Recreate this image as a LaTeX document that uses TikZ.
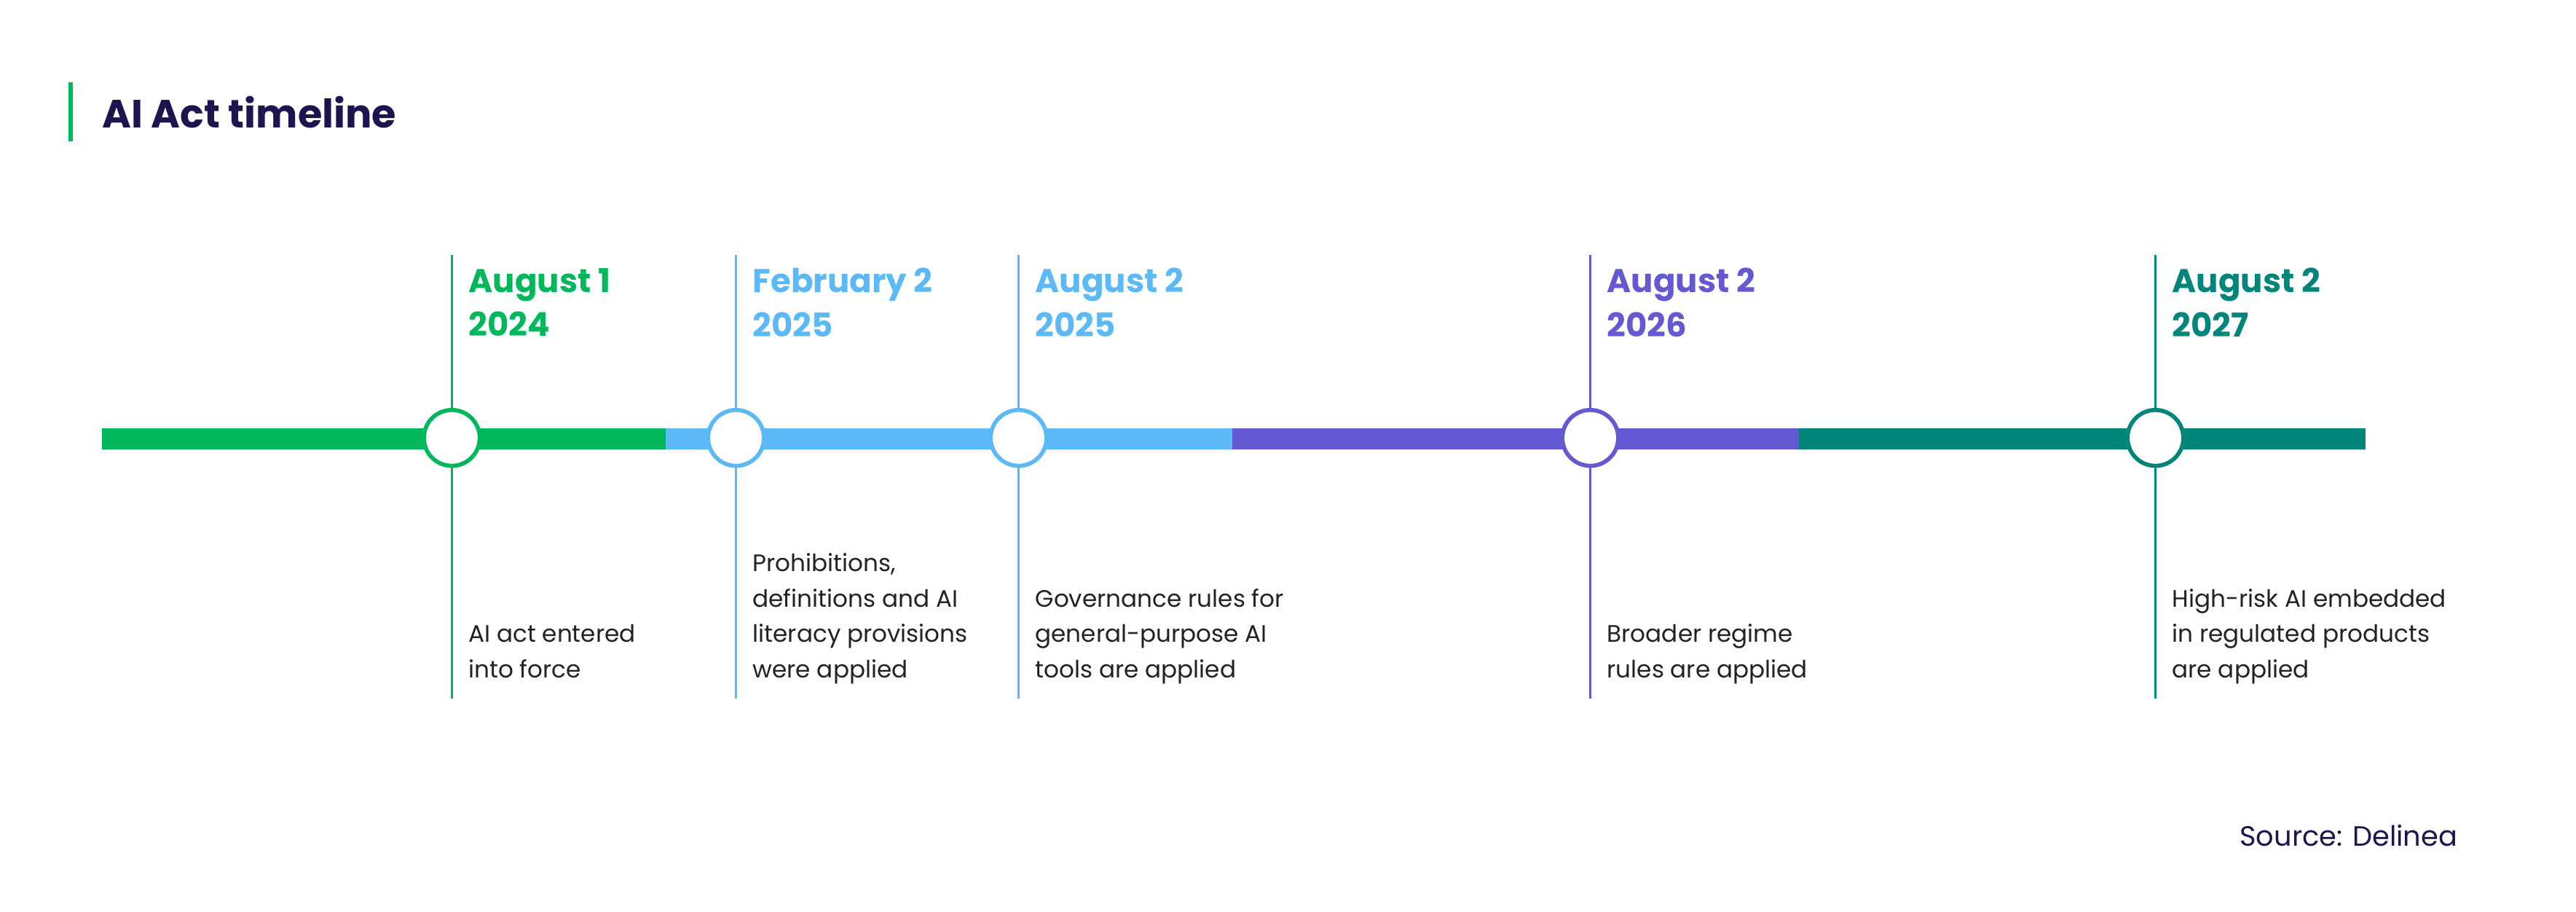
\documentclass[tikz,border=0pt]{standalone}
\usepackage{fontspec}
\setmainfont{Poppins}
\definecolor{cgreen}{HTML}{00B85C}
\definecolor{cblue}{HTML}{5BBAF5}
\definecolor{cpurple}{HTML}{6459D3}
\definecolor{cteal}{HTML}{00857A}
\definecolor{navy}{HTML}{1E1450}
\definecolor{txt}{HTML}{222222}
\begin{document}
\begin{tikzpicture}[x=1pt,y=-1pt,
  datelbl/.style={anchor=north west,inner sep=0,font=\fontsize{20}{27}\selectfont\bfseries,align=left},
  desclbl/.style={anchor=south west,inner sep=0,font=\fontsize{14.5}{21.5}\selectfont\strut,align=left,text=txt},
  dot/.style={circle,draw,line width=2.5pt,fill=white,minimum size=34pt,inner sep=0}]
\useasboundingbox (0,0) rectangle (1568,554.6);
\draw[cgreen,line width=2.5pt] (43,50) -- (43,86);
\node[anchor=base west,inner sep=0,text=navy,font=\fontsize{24}{28}\selectfont\bfseries] (title) at (62,78) {AI Act timeline};
\fill[cgreen] (62,260.5) rectangle (405,273.5);
\fill[cblue] (405,260.5) rectangle (750,273.5);
\fill[cpurple] (750,260.5) rectangle (1095,273.5);
\fill[cteal] (1095,260.5) rectangle (1440,273.5);
\foreach \x/\c/\n/\d/\t in {
 275/cgreen/a/{August 1\\2024}/{AI act entered\\into force},
 448/cblue/b/{February 2\\2025}/{Prohibitions,\\definitions and AI\\literacy provisions\\were applied},
 620/cblue/c/{August 2\\2025}/{Governance rules for\\general-purpose AI\\tools are applied},
 968/cpurple/d/{August 2\\2026}/{Broader regime\\rules are applied},
 1312/cteal/e/{August 2\\2027}/{High-risk AI embedded\\in regulated products\\are applied}}{
  \coordinate (\n top) at (\x,155);
  \coordinate (\n bot) at (\x,425);
  \draw[\c,line width=1.6pt] (\n top) -- (\n bot);
  \node[dot,draw=\c] (\n) at (\x,266.5) {};
  \node[datelbl,text=\c] (\n date) at (\x+10,163) {\d};
  \node[desclbl] (\n desc) at (\x+10,419) {\t};
}
\node[anchor=base east,inner sep=0,text=navy,font=\fontsize{17}{20}\selectfont] (src) at (1496,515) {Source: Delinea};
\end{tikzpicture}
\end{document}
